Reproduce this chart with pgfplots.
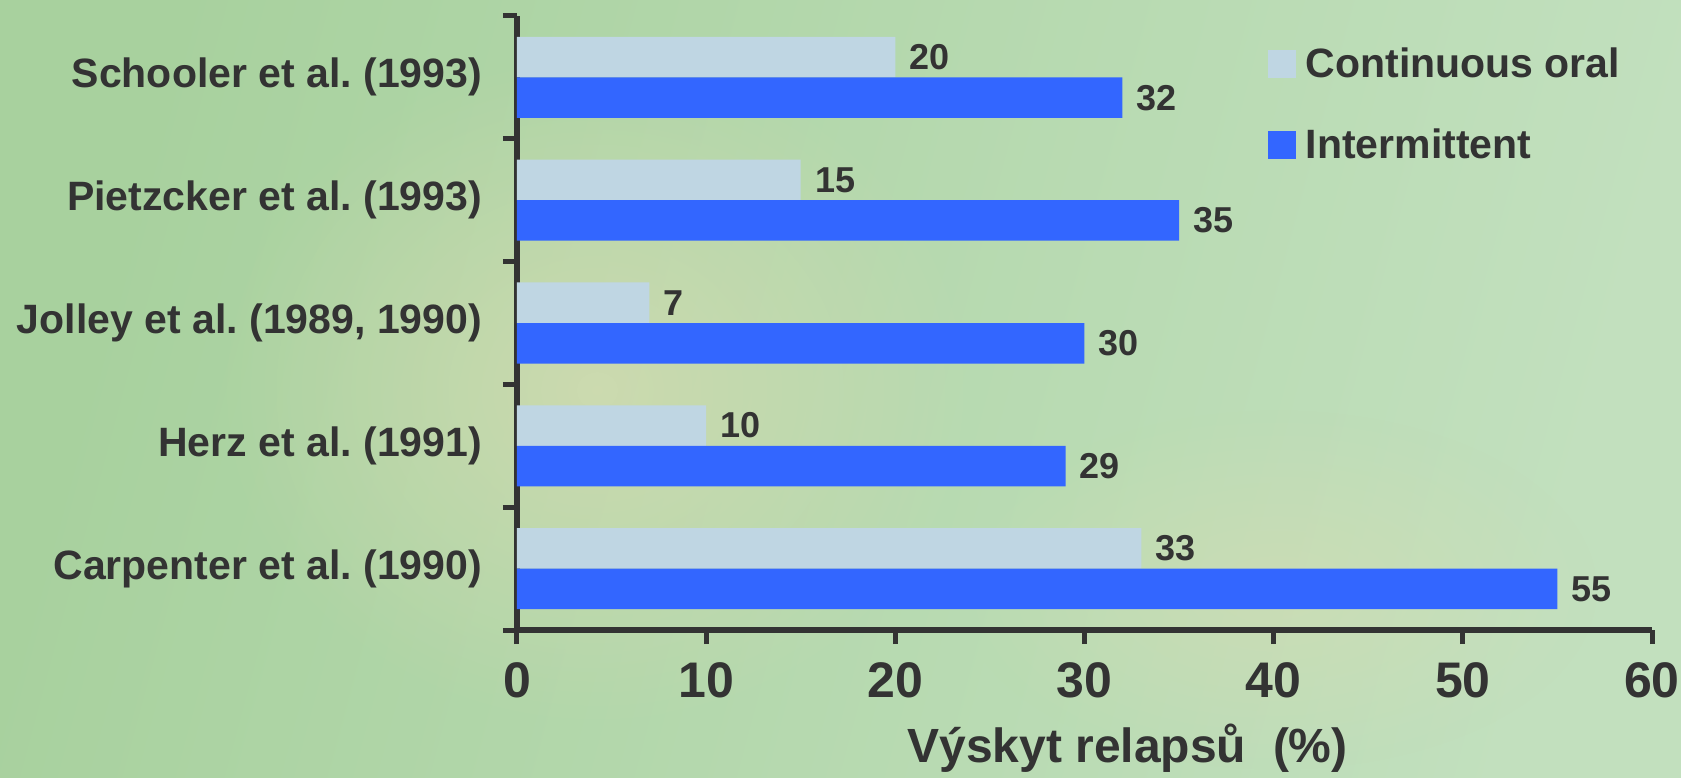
\documentclass[border=0pt]{standalone}
\usepackage{fontspec}
\setmainfont{Liberation Sans}
\usepackage{pgfplots}
\pgfplotsset{compat=1.18}
\usetikzlibrary{fadings}
\tikzfading[name=soft spot, inner color=transparent!0, outer color=transparent!100]
\definecolor{txt}{HTML}{333333}
\definecolor{contin}{HTML}{BFD6E3}
\definecolor{interm}{HTML}{3366FF}
\definecolor{bgA}{HTML}{A8D19E}
\definecolor{bgB}{HTML}{CFDAAE}
\definecolor{bgC}{HTML}{C2E0BE}
\definecolor{bgD}{HTML}{D8DCB2}
\frenchspacing

\begin{document}
\begin{tikzpicture}
\useasboundingbox (-258.5pt,-73.5pt) rectangle (582pt,315pt);
% page background
\shade[left color=bgA, middle color=bgB, right color=bgC, shading angle=75]
  (-258.5pt,-73.5pt) rectangle (582pt,315pt);
\fill[bgD, path fading=soft spot, opacity=0.7] (40pt,120pt) ellipse (190pt and 170pt);
\fill[bgD, path fading=soft spot, opacity=0.5] (380pt,20pt) ellipse (160pt and 90pt);
\begin{axis}[
  at={(0,0)}, anchor=south west,
  xbar, scale only axis,
  width=567.5pt, height=307pt,
  xmin=0, xmax=60, ymin=-0.5, ymax=4.5,
  axis x line*=bottom, axis y line*=left,
  axis line style={line width=2.8pt, color=txt, -},
  xtick={0,10,...,60},
  ytick={0,...,4},
  yticklabels={Carpenter et al. (1990), Herz et al. (1991), {Jolley et al. (1989, 1990)}, Pietzcker et al. (1993), Schooler et al. (1993)},
  minor ytick={-0.5,0.5,...,4.5},
  tick align=outside,
  major tick length=7pt, minor tick length=7pt,
  every major y tick/.append style={draw=none},
  tick style={line width=2.5pt, color=txt},
  /pgf/number format/assume math mode=true,
  xticklabel style={font=\fontsize{25}{25}\selectfont\bfseries, text=txt, yshift=-6pt},
  yticklabel style={font=\fontsize{20.5}{20.5}\selectfont\bfseries, text=txt, xshift=-7pt},
  xlabel={Výskyt relapsů\ \ (\%)},
  xlabel style={font=\fontsize{24}{24}\selectfont\bfseries, text=txt,
    at={(axis description cs:0.538,0)}, anchor=center, yshift=-59pt},
  bar width=0.33,
  nodes near coords,
  nodes near coords style={font=\fontsize{18}{18}\selectfont\bfseries, text=txt,
    anchor=west, inner sep=2pt, xshift=5pt},
  legend style={draw=none, fill=none, at={(axis cs:39.35,4.31)}, anchor=north west,
    font=\fontsize{20.5}{20.5}\selectfont\bfseries, text=txt,
    row sep=20pt, column sep=0pt, nodes={inner sep=2pt}},
  legend cell align=left,
  legend image code/.code={\fill[#1] (0pt,-7pt) rectangle (14pt,7pt);},
  legend entries={\hspace{3pt}Continuous oral, \hspace{3pt}Intermittent},
]
\addplot[fill=contin, draw=none, bar shift=0.165]
  coordinates {(33,0) (10,1) (7,2) (15,3) (20,4)};
\addplot[fill=interm, draw=none, bar shift=-0.165]
  coordinates {(55,0) (29,1) (30,2) (35,3) (32,4)};
\end{axis}
\end{tikzpicture}
\end{document}
